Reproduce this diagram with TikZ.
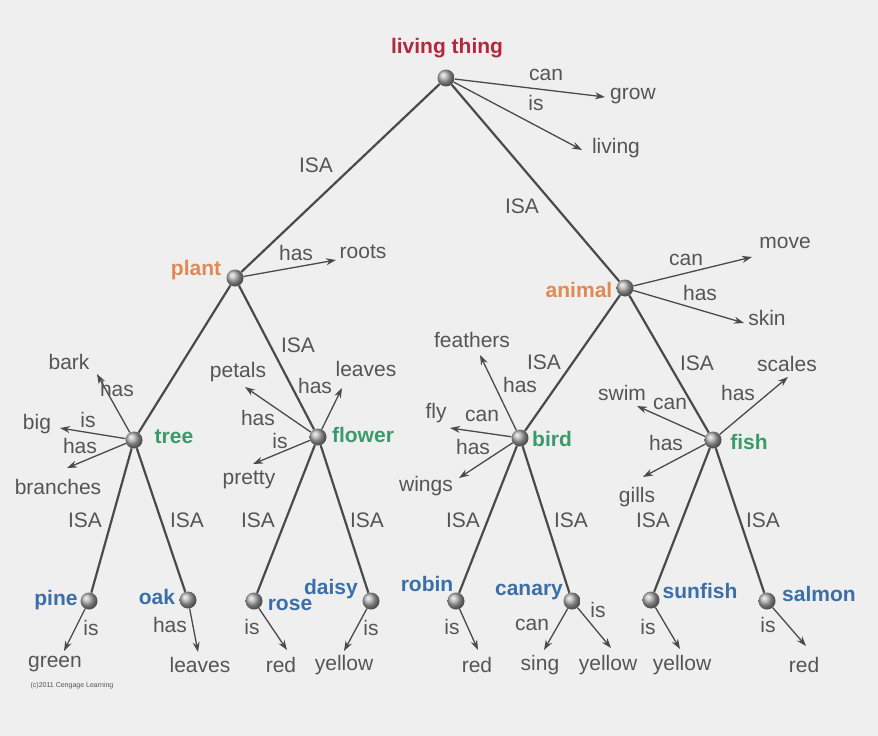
\documentclass[tikz,border=0pt]{standalone}
\usepackage{fontspec}
\setmainfont{Liberation Sans}
\usetikzlibrary{arrows.meta}

\definecolor{bggray}{HTML}{EFEFEF}
\definecolor{txtgray}{HTML}{555555}
\definecolor{linegray}{HTML}{4A4A4A}
\definecolor{thingred}{HTML}{B5273D}
\definecolor{kingorange}{HTML}{DF8A55}
\definecolor{classgreen}{HTML}{3A9A6C}
\definecolor{leafblue}{HTML}{3B6FA8}

\begin{document}
\begin{tikzpicture}[
            x = 1pt, y = -1pt, % pixel grid, y goes down
            > = {Stealth[length=10pt, width=7pt]}, % arrow head style
            font = \fontsize{21}{23}\selectfont,
            text = txtgray
        ]

        \tikzstyle{concept}=[
            circle,
            inner sep = 0pt,
            minimum size = 17pt,
            ball color = gray!65
        ]
        \tikzstyle{isa}=[draw = linegray, line width = 2.2pt]
        \tikzstyle{rel}=[draw = linegray, line width = 1.3pt, ->]
        \tikzstyle{word}=[inner sep = 1pt]
        \tikzstyle{rootname}=[font = \fontsize{21}{23}\selectfont\bfseries, text = thingred]
        \tikzstyle{kingname}=[font = \fontsize{21}{23}\selectfont\bfseries, text = kingorange]
        \tikzstyle{classname}=[font = \fontsize{21}{23}\selectfont\bfseries, text = classgreen]
        \tikzstyle{leafname}=[font = \fontsize{21}{23}\selectfont\bfseries, text = leafblue]

        % background and margins
        \fill[bggray] (0,0) rectangle (878,736);
        \useasboundingbox (0,0) rectangle (878,736);

        % concept spheres
        \node[concept] (living) at (446,78) {};
        \node[concept] (plant) at (235,278) {};
        \node[concept] (animal) at (625,288) {};
        \node[concept] (tree) at (134,440) {};
        \node[concept] (flower) at (318,437) {};
        \node[concept] (bird) at (520,438) {};
        \node[concept] (fish) at (713,440) {};
        \node[concept] (pine) at (89,601) {};
        \node[concept] (oak) at (188,600) {};
        \node[concept] (rose) at (254,601) {};
        \node[concept] (daisy) at (371,601) {};
        \node[concept] (robin) at (456,601) {};
        \node[concept] (canary) at (572,601) {};
        \node[concept] (sunfish) at (651,600) {};
        \node[concept] (salmon) at (767,601) {};

        % concept names
        \node[rootname] (n-living) at (447,48) {living thing};
        \node[kingname] (n-plant) at (196,270) {plant};
        \node[kingname] (n-animal) at (579,290) {animal};
        \node[classname] (n-tree) at (174,437) {tree};
        \node[classname] (n-flower) at (363,435) {flower};
        \node[classname] (n-bird) at (552,439) {bird};
        \node[classname] (n-fish) at (749,442) {fish};
        \node[leafname] (n-pine) at (56,600) {pine};
        \node[leafname] (n-oak) at (157,597) {oak};
        \node[leafname] (n-rose) at (290,605) {rose};
        \node[leafname] (n-daisy) at (331,589) {daisy};
        \node[leafname] (n-robin) at (427,584) {robin};
        \node[leafname] (n-canary) at (529,592) {canary};
        \node[leafname] (n-sunfish) at (700,591) {sunfish};
        \node[leafname] (n-salmon) at (819,594) {salmon};

        % ISA links
        \draw[isa] (living) -- (plant);
        \draw[isa] (living) -- (animal);
        \draw[isa] (plant) -- (tree);
        \draw[isa] (plant) -- (flower);
        \draw[isa] (animal) -- (bird);
        \draw[isa] (animal) -- (fish);
        \draw[isa] (tree) -- (pine);
        \draw[isa] (tree) -- (oak);
        \draw[isa] (flower) -- (rose);
        \draw[isa] (flower) -- (daisy);
        \draw[isa] (bird) -- (robin);
        \draw[isa] (bird) -- (canary);
        \draw[isa] (fish) -- (sunfish);
        \draw[isa] (fish) -- (salmon);

        \node[word] (i-plant) at (316,165) {ISA};
        \node[word] (i-animal) at (522,206) {ISA};
        \node[word] (i-flower) at (298,345) {ISA};
        \node[word] (i-bird) at (544,362) {ISA};
        \node[word] (i-fish) at (697,363) {ISA};
        \node[word] (i-pine) at (85,520) {ISA};
        \node[word] (i-oak) at (187,520) {ISA};
        \node[word] (i-rose) at (258,520) {ISA};
        \node[word] (i-daisy) at (367,520) {ISA};
        \node[word] (i-robin) at (463,520) {ISA};
        \node[word] (i-canary) at (571,520) {ISA};
        \node[word] (i-sunfish) at (653,520) {ISA};
        \node[word] (i-salmon) at (763,520) {ISA};

        % property words
        \node[word] (grow) at (633,96) {grow};
        \node[word] (livingp) at (616,148) {living};
        \node[word] (roots) at (363,252) {roots};
        \node[word] (move) at (785,243) {move};
        \node[word] (skin) at (767,318) {skin};
        \node[word] (bark) at (69,362) {bark};
        \node[word] (big) at (37,424) {big};
        \node[word] (branches) at (58,487) {branches};
        \node[word] (petals) at (238,372) {petals};
        \node[word] (leavesf) at (366,369) {leaves};
        \node[word] (pretty) at (249,480) {pretty};
        \node[word] (feathers) at (472,340) {feathers};
        \node[word] (fly) at (436,413) {fly};
        \node[word] (wings) at (426,486) {wings};
        \node[word] (swim) at (622,393) {swim};
        \node[word] (scales) at (787,364) {scales};
        \node[word] (gills) at (637,497) {gills};
        \node[word] (green) at (55,664) {green};
        \node[word] (leaveso) at (200,665) {leaves};
        \node[word] (redr) at (281,665) {red};
        \node[word] (yellowd) at (344,665) {yellow};
        \node[word] (redb) at (477,665) {red};
        \node[word] (sing) at (540,665) {sing};
        \node[word] (yellowc) at (608,665) {yellow};
        \node[word] (yellows) at (682,665) {yellow};
        \node[word] (reds) at (804,665) {red};

        % arrow tips
        \coordinate (t-grow) at (605,97);
        \coordinate (t-living) at (582,150);
        \coordinate (t-roots) at (336,260);
        \coordinate (t-move) at (752,257);
        \coordinate (t-skin) at (744,323);
        \coordinate (t-bark) at (97,374);
        \coordinate (t-big) at (60,428);
        \coordinate (t-branches) at (67,468);
        \coordinate (t-petals) at (245,387);
        \coordinate (t-leavesf) at (342,388);
        \coordinate (t-pretty) at (253,464);
        \coordinate (t-feathers) at (480,355);
        \coordinate (t-fly) at (450,428);
        \coordinate (t-wings) at (459,478);
        \coordinate (t-swim) at (637,406);
        \coordinate (t-scales) at (788,377);
        \coordinate (t-gills) at (643,477);
        \coordinate (t-green) at (64,651);
        \coordinate (t-leaveso) at (198,652);
        \coordinate (t-redr) at (287,650);
        \coordinate (t-yellowd) at (344,651);
        \coordinate (t-redb) at (478,650);
        \coordinate (t-sing) at (544,650);
        \coordinate (t-yellowc) at (611,648);
        \coordinate (t-yellows) at (680,649);
        \coordinate (t-reds) at (806,646);

        % property links
        \draw[rel] (living) -- (t-grow);
        \draw[rel] (living) -- (t-living);
        \draw[rel] (plant) -- (t-roots);
        \draw[rel] (animal) -- (t-move);
        \draw[rel] (animal) -- (t-skin);
        \draw[rel] (tree) -- (t-bark);
        \draw[rel] (tree) -- (t-big);
        \draw[rel] (tree) -- (t-branches);
        \draw[rel] (flower) -- (t-petals);
        \draw[rel] (flower) -- (t-leavesf);
        \draw[rel] (flower) -- (t-pretty);
        \draw[rel] (bird) -- (t-feathers);
        \draw[rel] (bird) -- (t-fly);
        \draw[rel] (bird) -- (t-wings);
        \draw[rel] (fish) -- (t-swim);
        \draw[rel] (fish) -- (t-scales);
        \draw[rel] (fish) -- (t-gills);
        \draw[rel] (pine) -- (t-green);
        \draw[rel] (oak) -- (t-leaveso);
        \draw[rel] (rose) -- (t-redr);
        \draw[rel] (daisy) -- (t-yellowd);
        \draw[rel] (robin) -- (t-redb);
        \draw[rel] (canary) -- (t-sing);
        \draw[rel] (canary) -- (t-yellowc);
        \draw[rel] (sunfish) -- (t-yellows);
        \draw[rel] (salmon) -- (t-reds);

        % relation words
        \node[word] (r-grow) at (546,75) {can};
        \node[word] (r-living) at (536,103) {is};
        \node[word] (r-roots) at (296,253) {has};
        \node[word] (r-move) at (686,260) {can};
        \node[word] (r-skin) at (700,293) {has};
        \node[word] (r-bark) at (117,389) {has};
        \node[word] (r-big) at (88,420) {is};
        \node[word] (r-branches) at (80,446) {has};
        \node[word] (r-petals) at (258,418) {has};
        \node[word] (r-leavesf) at (315,386) {has};
        \node[word] (r-pretty) at (280,441) {is};
        \node[word] (r-feathers) at (520,385) {has};
        \node[word] (r-fly) at (482,416) {can};
        \node[word] (r-wings) at (473,447) {has};
        \node[word] (r-swim) at (670,404) {can};
        \node[word] (r-scales) at (738,393) {has};
        \node[word] (r-gills) at (666,443) {has};
        \node[word] (r-green) at (91,628) {is};
        \node[word] (r-leaveso) at (170,625) {has};
        \node[word] (r-redr) at (252,627) {is};
        \node[word] (r-yellowd) at (371,628) {is};
        \node[word] (r-redb) at (452,627) {is};
        \node[word] (r-sing) at (532,625) {can};
        \node[word] (r-yellowc) at (598,610) {is};
        \node[word] (r-yellows) at (648,627) {is};
        \node[word] (r-reds) at (768,625) {is};

        % credit line
        \node[word, font = \fontsize{7}{8}\selectfont] (credit) at (72,686) {(c)2011 Cengage Learning};
    \end{tikzpicture}
\end{document}
